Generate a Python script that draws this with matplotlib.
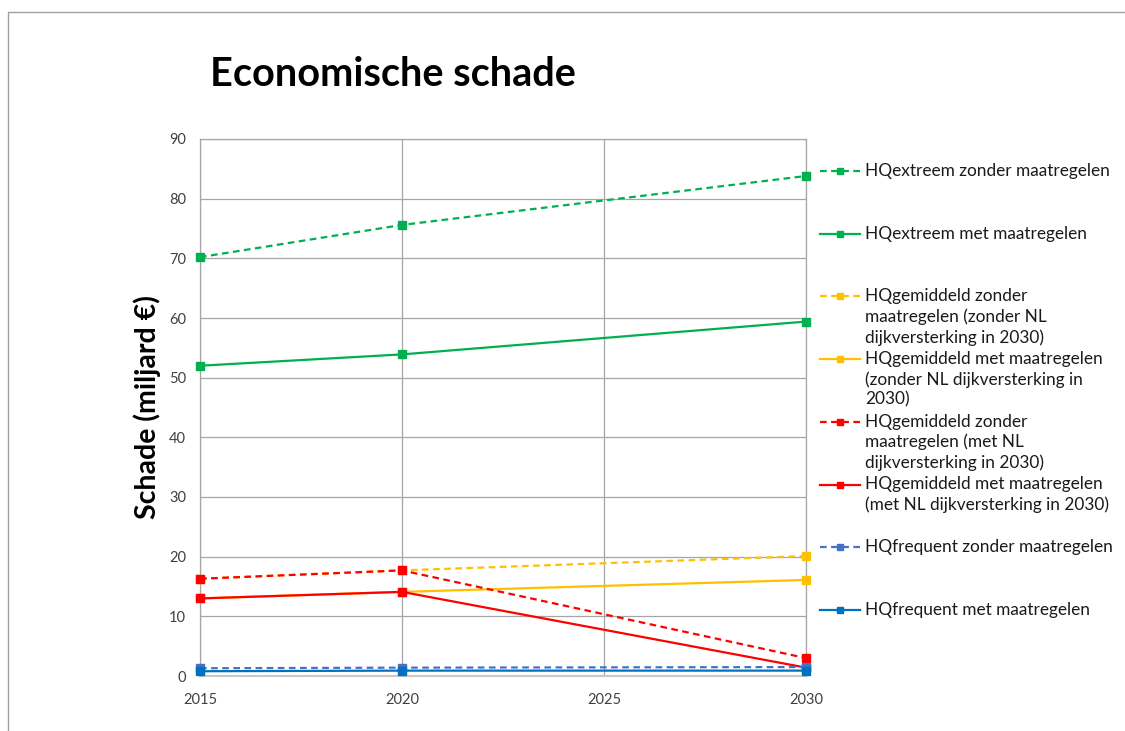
import matplotlib.pyplot as plt
from matplotlib.lines import Line2D

jaren = [2015, 2020, 2030]

labels = [
    "HQextreem zonder maatregelen",
    "HQextreem met maatregelen",
    "HQgemiddeld zonder\nmaatregelen (zonder NL\ndijkversterking in 2030)",
    "HQgemiddeld met maatregelen\n(zonder NL dijkversterking in\n2030)",
    "HQgemiddeld zonder\nmaatregelen (met NL\ndijkversterking in 2030)",
    "HQgemiddeld met maatregelen\n(met NL dijkversterking in 2030)",
    "HQfrequent zonder maatregelen",
    "HQfrequent met maatregelen",
]

extreem_zonder = [70.2, 75.6, 83.8]
extreem_met = [52.0, 53.9, 59.4]
gem_zonder_zonderNL = [16.3, 17.7, 20.1]
gem_met_zonderNL = [13.0, 14.1, 16.1]
gem_zonder_metNL = [16.3, 17.7, 3.0]
gem_met_metNL = [13.0, 14.1, 1.4]
freq_zonder = [1.3, 1.4, 1.5]
freq_met = [0.8, 0.9, 0.9]

reeksen = [extreem_zonder, extreem_met, gem_zonder_zonderNL, gem_met_zonderNL,
           gem_zonder_metNL, gem_met_metNL, freq_zonder, freq_met]
kleuren = ["#00b050", "#00b050", "#ffc000", "#ffc000",
           "#ff0000", "#ff0000", "#4472c4", "#0070c0"]
stijlen = ["--", "-", "--", "-", "--", "-", "--", "-"]

xticks = [2015, 2020, 2025, 2030]
yticks = [0, 10, 20, 30, 40, 50, 60, 70, 80, 90]

plt.rcParams['font.family'] = ['Lato', 'DejaVu Sans']

W, H = 1125, 731
fig = plt.figure(figsize=(W / 100, H / 100), dpi=100)
ax = fig.add_axes([200 / W, 1 - 676 / H, 606 / W, 537 / H])

for i in range(len(reeksen)):
    ax.plot(jaren, reeksen[i], linestyle=stijlen[i], color=kleuren[i], lw=1.6,
            marker="s", markersize=6, dashes=(3, 2) if stijlen[i] == "--" else (None, None),
            clip_on=False, zorder=3 + i)

ax.set_xlim(2015, 2030)
ax.set_ylim(0, 90)
ax.set_xticks(xticks)
ax.set_yticks(yticks)
ax.grid(True, color="#a6a6a6", lw=0.9)
ax.tick_params(length=0, labelsize=10.5, colors="#404040")
ax.tick_params(axis="x", pad=12)
ax.tick_params(axis="y", pad=10)
for s in ax.spines.values():
    s.set_color("#a6a6a6")
    s.set_linewidth(0.9)
ax.spines["bottom"].set_color("#c8c8c8")
ax.spines["bottom"].set_linewidth(1.5)

ax.set_ylabel("Schade (miljard €)", fontsize=20.5, fontweight="bold", labelpad=6)
fig.text(210 / W, 1 - 75 / H, "Economische schade", fontsize=28.5, fontweight="bold",
         ha="left", va="center")

# legenda handmatig, gelijke stappen per item zoals Excel
for i in range(len(labels)):
    yy = 1 - (171 + 62.7 * i) / H
    fig.add_artist(Line2D([820 / W, 860 / W], [yy, yy], color=kleuren[i], lw=1.6,
                          linestyle=stijlen[i],
                          dashes=(3, 2) if stijlen[i] == "--" else (None, None)))
    fig.add_artist(Line2D([840 / W], [yy], color=kleuren[i], marker="s", markersize=5))
    fig.text(865 / W, yy + 8 / H, labels[i], fontsize=12.4, ha="left", va="top",
             linespacing=1.3, color="#1a1a1a")

# kader van de grafiek
fig.add_artist(Line2D([8 / W, 8 / W, 1], [0, 1 - 12 / H, 1 - 12 / H],
                      color="#a0a0a0", lw=1))

fig.savefig("out.png", dpi=100)
